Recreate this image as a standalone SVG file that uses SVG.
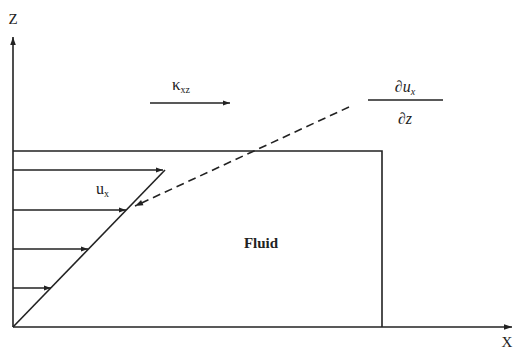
<svg xmlns="http://www.w3.org/2000/svg" width="515" height="350" viewBox="0 0 515 350">
<style>
.ln{stroke:#222;stroke-width:1.6;fill:none}
.thin{stroke:#222;stroke-width:1.4;fill:none}
.dash{stroke:#222;stroke-width:1.6;fill:none;stroke-dasharray:8,5}
.t{font-family:"Liberation Serif",serif;fill:#222}
</style>
<defs>
<marker id="ah" viewBox="0 0 10 10" refX="10" refY="5" markerWidth="7" markerHeight="7" markerUnits="userSpaceOnUse" orient="auto"><path d="M0,1.5 L10,5 L0,8.5 Z" fill="#222"/></marker>
<marker id="ahl" viewBox="0 0 10 10" refX="10" refY="5" markerWidth="10" markerHeight="8" markerUnits="userSpaceOnUse" orient="auto"><path d="M0,1.5 L10,5 L0,8.5 Z" fill="#222"/></marker>
</defs>
<rect width="515" height="350" fill="#fff"/>
<g id="axes">
<line class="ln" x1="13" y1="327" x2="13" y2="37" marker-end="url(#ahl)"/>
<line class="ln" x1="13" y1="327" x2="512" y2="327" marker-end="url(#ahl)"/>
<text class="t" x="13" y="24" font-size="15" text-anchor="middle">Z</text>
<text class="t" x="507" y="347" font-size="15" text-anchor="middle">X</text>
</g>
<g id="fluid">
<polyline class="ln" points="13,151 382,151 382,327"/>
<text class="t" x="261" y="248" font-size="15" font-weight="bold" text-anchor="middle">Fluid</text>
</g>
<g id="profile">
<line class="ln" x1="13" y1="327" x2="165" y2="170"/>
<line class="thin" x1="13" y1="170" x2="163" y2="170" marker-end="url(#ah)"/>
<line class="thin" x1="13" y1="210" x2="126" y2="210" marker-end="url(#ah)"/>
<line class="thin" x1="13" y1="249" x2="88" y2="249" marker-end="url(#ah)"/>
<line class="thin" x1="13" y1="288" x2="51" y2="288" marker-end="url(#ah)"/>
<text class="t" x="96" y="194" font-size="16">u<tspan font-size="10" dy="3">x</tspan></text>
</g>
<g id="flux">
<text class="t" x="172" y="90" font-size="17">κ<tspan font-size="10" dy="3">xz</tspan></text>
<line class="thin" x1="150" y1="103" x2="230" y2="103" marker-end="url(#ah)"/>
</g>
<g id="gradient">
<text class="t" x="405" y="92" font-size="16" font-style="italic" text-anchor="middle">∂u<tspan font-size="10" dy="3">x</tspan></text>
<line class="thin" x1="368" y1="100" x2="443" y2="100"/>
<text class="t" x="405" y="124" font-size="16" font-style="italic" text-anchor="middle">∂z</text>
</g>
<g id="connectors">
<line class="dash" x1="349" y1="107" x2="135" y2="206" marker-end="url(#ahl)"/>
</g>
</svg>
